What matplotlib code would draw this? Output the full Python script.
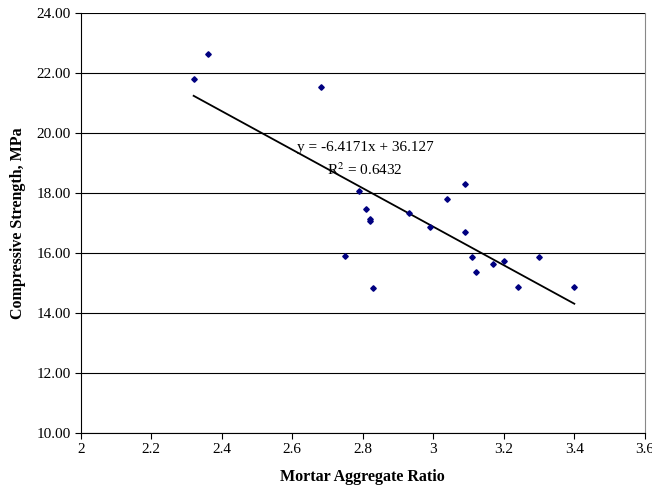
import numpy as np
import matplotlib.pyplot as plt

plt.rcParams['font.family'] = ['Liberation Serif', 'DejaVu Serif']
plt.rcParams['mathtext.fontset'] = 'stix'

# mortar aggregate ratio vs compressive strength
ratio = [2.32, 2.36, 2.68, 2.79, 2.81, 2.82, 2.82, 2.75, 2.83, 2.93, 2.99,
         3.04, 3.09, 3.09, 3.11, 3.12, 3.17, 3.20, 3.24, 3.30, 3.40]
strength = [21.80, 22.62, 21.52, 18.07, 17.45, 17.12, 17.06, 15.90, 14.85, 17.33, 16.86,
            17.81, 18.30, 16.70, 15.88, 15.37, 15.64, 15.74, 14.88, 15.88, 14.88]

# trendline from the chart
slope = -6.4171
intercept = 36.127
r2 = 0.6432

fig = plt.figure(figsize=(6.52, 4.9), dpi=100)
ax = fig.add_axes([0.124, 0.1163, 0.865, 0.8572])

ax.plot(ratio, strength, linestyle='none', marker='D', markersize=2.8,
        color='#000080', zorder=3)

xl = np.array([min(ratio), max(ratio)])
ax.plot(xl, slope * xl + intercept, color='black', linewidth=1.3, zorder=2)

ax.text(2.806, 19.52, f"y = {slope}x + {intercept}", ha='center', va='center', fontsize=11)
ax.text(2.806, 18.78, f"R$^2$ = {r2}", ha='center', va='center', fontsize=11)

ax.set_xlim(2, 3.6)
ax.set_ylim(10, 24)
ax.set_xticks(np.arange(2, 3.61, 0.2))
ax.set_xticklabels(['2', '2.2', '2.4', '2.6', '2.8', '3', '3.2', '3.4', '3.6'])
ax.set_yticks(np.arange(10, 24.1, 2))
ax.set_yticklabels([f"{v:.2f}" for v in np.arange(10, 24.1, 2)])
ax.tick_params(labelsize=11, direction='out', length=4, width=0.8)

ax.yaxis.grid(True, color='black', linewidth=0.8)
ax.set_axisbelow(True)
ax.spines['top'].set_visible(False)
ax.spines['right'].set_color('#888888')

ax.set_xlabel('Mortar Aggregate Ratio', fontweight='bold', fontsize=11.5, labelpad=9)
ax.set_ylabel('Compressive Strength, MPa', fontweight='bold', fontsize=11.5, labelpad=7)

fig.savefig('out.png', dpi=100)
